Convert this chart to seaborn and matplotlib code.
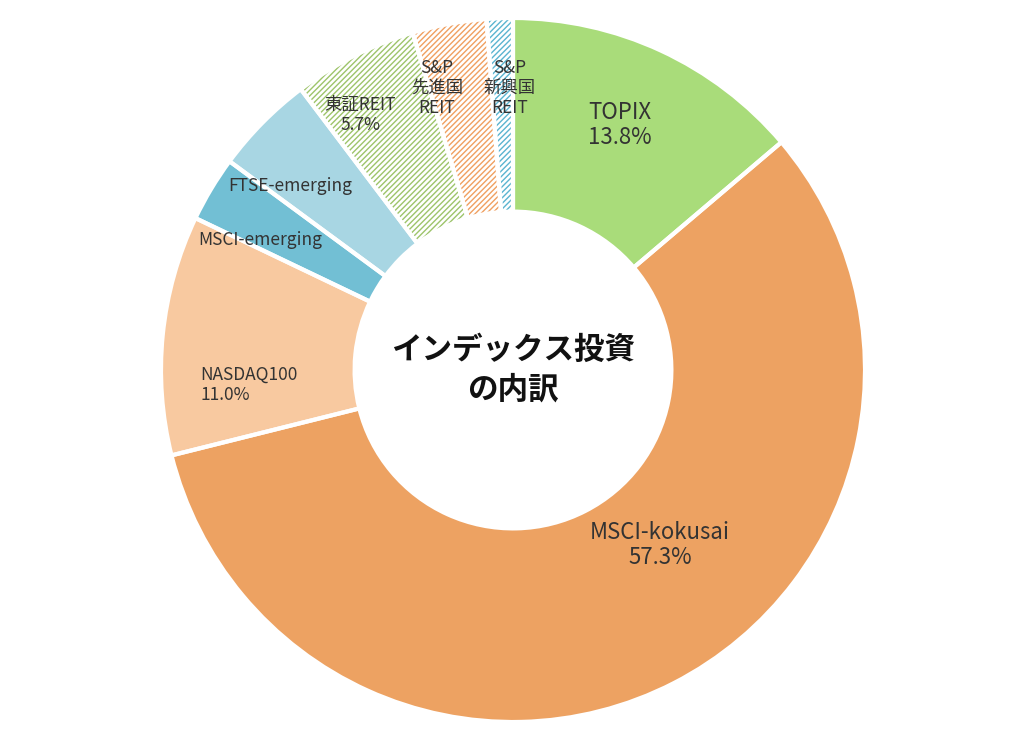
import matplotlib
matplotlib.use("Agg")
import matplotlib.pyplot as plt
import seaborn as sns

sns.set_theme(style="white")
plt.rcParams['font.family'] = ['Noto Sans CJK JP', 'DejaVu Sans']

labels = ['TOPIX', 'MSCI-kokusai', 'NASDAQ100', 'MSCI-emerging', 'FTSE-emerging',
          '東証REIT', 'S&P先進国REIT', 'S&P新興国REIT']
values = [13.8, 57.3, 11.0, 3.0, 4.6, 5.7, 3.4, 1.2]
colors = ['#a9dc7a', '#eda262', '#f8c9a0', '#72bfd4', '#a8d6e3', '#9dc46a', '#f0a060', '#5ab4d0']
hatched = [False, False, False, False, False, True, True, True]
texts = ['TOPIX\n13.8%', 'MSCI-kokusai\n57.3%', 'NASDAQ100\n11.0%', 'MSCI-emerging',
         'FTSE-emerging', '東証REIT\n5.7%', 'S&P\n先進国\nREIT', 'S&P\n新興国\nREIT']

fig = plt.figure(figsize=(10.24, 7.42), dpi=100)
ax = fig.add_axes([0, 0, 1, 1])
R = 352

wedges, _ = ax.pie(values, startangle=90, counterclock=False, radius=1,
                   wedgeprops=dict(width=0.55, linewidth=0))
for w, c, h in zip(wedges, colors, hatched):
    if h:
        w.set_facecolor('white')
        w.set_edgecolor(c)
        w.set_hatch('//////')
    else:
        w.set_facecolor(c)
ax.pie(values, startangle=90, counterclock=False, radius=1,
       wedgeprops=dict(width=0.55, linewidth=3, edgecolor='white', facecolor='none'))

# label positions in pixels of the reference (x, y from top), alignment, size
pos = [(620, 125, 'center', 16), (660, 545, 'center', 16), (200, 385, 'left', 12.5),
       (198, 240, 'left', 12.5), (228, 186, 'left', 12.5), (360, 115, 'center', 12.5),
       (437, 88, 'center', 12.5), (510, 88, 'center', 12.5)]
for t, (px, py, ha, fs) in zip(texts, pos):
    x = (px - 513) / R
    y = (370 - py) / R
    ax.text(x, y, t, ha=ha, va='center', fontsize=fs, color='#333333',
            linespacing=1.15, multialignment='left' if ha == 'left' else 'center')

ax.text(0, 0, 'インデックス投資\nの内訳', ha='center', va='center', fontsize=22,
        fontweight='bold', color='#111111', linespacing=1.3)

ax.set_xlim(-513 / R, 511 / R)
ax.set_ylim(-372 / R, 370 / R)
ax.set_aspect('equal')
ax.axis('off')
fig.savefig('out.png', dpi=100, facecolor='white')
